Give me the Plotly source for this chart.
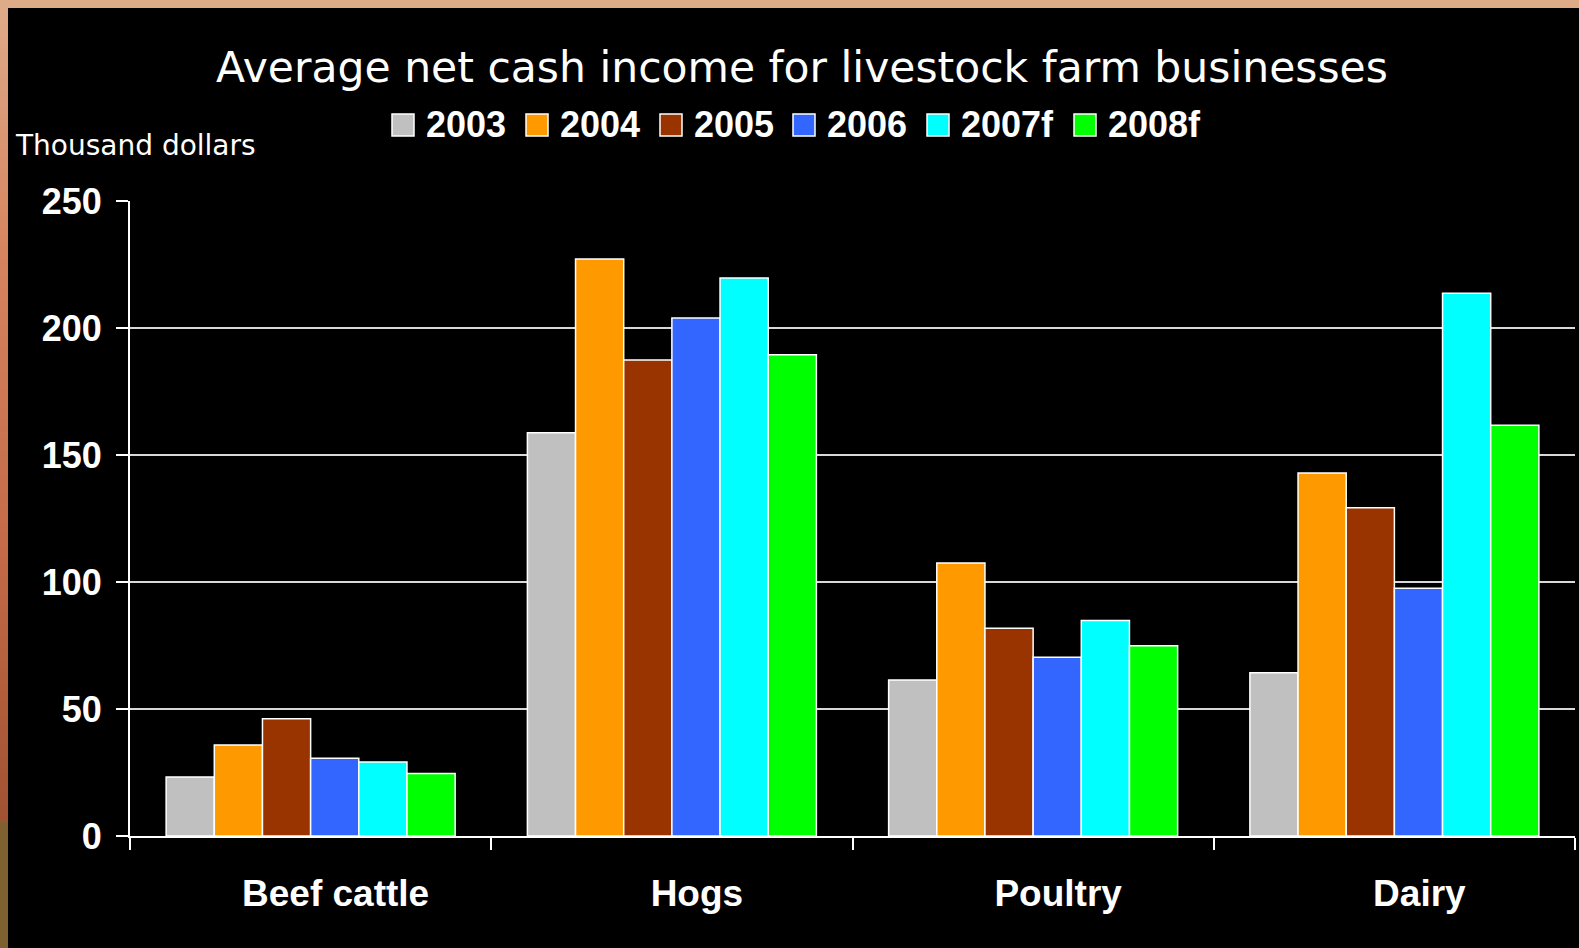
import plotly.graph_objects as go

# Average net cash income by livestock farm type (thousand dollars)
categories = ["Beef cattle", "Hogs", "Poultry", "Dairy"]
years = ["2003", "2004", "2005", "2006", "2007f", "2008f"]
income_2003 = [23.2, 158.8, 61.4, 64.3]
income_2004 = [35.8, 227.2, 107.5, 142.9]
income_2005 = [46.2, 187.4, 81.8, 129.2]
income_2006 = [30.6, 203.9, 70.4, 97.5]
income_2007f = [29.1, 219.7, 84.8, 213.7]
income_2008f = [24.6, 189.5, 74.9, 161.7]
y_ticks = [0, 50, 100, 150, 200, 250]

series = [income_2003, income_2004, income_2005, income_2006, income_2007f, income_2008f]
colors = ["#C0C0C0", "#FF9900", "#993300", "#3366FF", "#00FFFF", "#00FF00"]

W, H = 1579, 948
L, R, T, B = 130, 4, 201, 112
PW, PH = W - L - R, H - T - B


def px(x):
    return (x - L) / PW


def py(y):
    return (H - B - y) / PH


fig = go.Figure()
for name, vals, col in zip(years, series, colors):
    fig.add_trace(go.Bar(
        x=categories, y=vals, name=name,
        marker=dict(color=col, line=dict(color="#FFFFFF", width=1.5)),
        showlegend=False,
    ))

shapes = []
annotations = []

# Decorative frame: tan strip along the top, shaded strip down the left side
shapes.append(dict(type="rect", xref="paper", yref="paper",
                   x0=px(0), x1=px(W), y0=py(8), y1=py(0),
                   fillcolor="#DEAB89", line=dict(width=0), layer="above"))
stops = [(0, (222, 171, 137)), (250, (214, 132, 96)), (550, (196, 106, 72)),
         (822, (160, 82, 50))]
seg = 6
y = 0
while y < 822:
    yc = y + seg / 2
    for (a, ca), (b, cb) in zip(stops[:-1], stops[1:]):
        if a <= yc <= b:
            t = (yc - a) / (b - a)
            c = tuple(round(ca[i] + (cb[i] - ca[i]) * t) for i in range(3))
            break
    shapes.append(dict(type="rect", xref="paper", yref="paper",
                       x0=px(0), x1=px(8), y0=py(min(y + seg, 822)), y1=py(y),
                       fillcolor="rgb(%d,%d,%d)" % c, line=dict(width=0), layer="above"))
    y += seg
shapes.append(dict(type="rect", xref="paper", yref="paper",
                   x0=px(0), x1=px(8), y0=py(H), y1=py(822),
                   fillcolor="#7F6131", line=dict(width=0), layer="above"))

# Legend row drawn as swatches and labels
legend_x = [392, 526, 660, 793, 927, 1074]
for name, col, lx in zip(years, colors, legend_x):
    shapes.append(dict(type="rect", xref="paper", yref="paper",
                       x0=px(lx), x1=px(lx + 22), y0=py(136), y1=py(114),
                       fillcolor=col, line=dict(color="#FFFFFF", width=1.5)))
    annotations.append(dict(xref="paper", yref="paper", x=px(lx + 32), y=py(125),
                            xanchor="left", yanchor="middle", showarrow=False,
                            text="<b>%s</b>" % name,
                            font=dict(family="Liberation Sans", size=36, color="#FFFFFF")))

annotations.append(dict(xref="paper", yref="paper", x=px(13), y=py(146),
                        xanchor="left", yanchor="middle", showarrow=False,
                        text="Thousand dollars",
                        font=dict(family="DejaVu Sans", size=28, color="#FFFFFF")))

fig.update_layout(
    width=W, height=H,
    margin=dict(l=L, r=R, t=T, b=B, autoexpand=False),
    paper_bgcolor="#000000", plot_bgcolor="#000000",
    barmode="group", bargap=0.2, bargroupgap=0,
    title=dict(text="Average net cash income for livestock farm businesses",
               x=802 / W, xanchor="center", xref="container",
               y=1 - 67 / H, yanchor="middle",
               font=dict(family="DejaVu Sans", size=42.5, color="#FFFFFF")),
    shapes=shapes, annotations=annotations,
    showlegend=False,
)

fig.update_xaxes(
    showline=True, linecolor="#FFFFFF", linewidth=2,
    ticks="outside", tickson="boundaries", ticklen=12, tickwidth=2, tickcolor="#FFFFFF",
    tickfont=dict(family="Liberation Sans", size=37, color="#FFFFFF", weight="bold"),
    ticklabelshift=25, ticklabelstandoff=24,
    showgrid=False,
)
fig.update_yaxes(
    range=[0, 250], tickvals=y_ticks,
    showline=True, linecolor="#FFFFFF", linewidth=2,
    ticks="outside", ticklen=12, tickwidth=2, tickcolor="#FFFFFF",
    tickfont=dict(family="Liberation Sans", size=36, color="#FFFFFF", weight="bold"),
    ticklabelstandoff=7,
    showgrid=True, gridcolor="#D8D8D8", gridwidth=1.5,
    zeroline=False,
)

fig.write_html("out.html")
